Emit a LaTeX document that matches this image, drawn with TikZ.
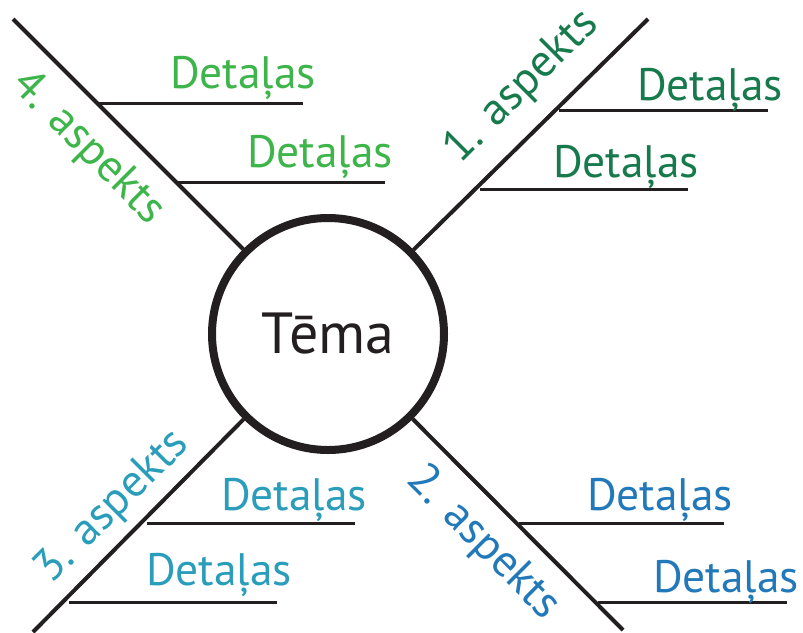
\documentclass[tikz,border=0pt]{standalone}
\usepackage{fontspec}
\setmainfont{PT Sans}
\usepackage{tikz}
\usetikzlibrary{positioning,calc}
\definecolor{ink}{HTML}{231F20}
\definecolor{asp1}{HTML}{177A4C}
\definecolor{asp2}{HTML}{2279B9}
\definecolor{asp3}{HTML}{2A9DBA}
\definecolor{asp4}{HTML}{3DB54A}
\tikzstyle{tema}=[circle,draw=ink,text=ink,line width=8pt,minimum size=232pt,inner sep=0pt,font=\fontsize{58}{62}\selectfont]
\tikzstyle{kauls}=[-,draw=ink,line width=4pt]
\tikzstyle{zars}=[-,draw=ink,line width=3pt]
\tikzstyle{det}=[anchor=base,inner sep=0pt,font=\fontsize{45.5}{48}\selectfont]
\tikzstyle{asp}=[inner sep=0pt,font=\fontsize{45.5}{48}\selectfont]

\begin{document}
\begin{tikzpicture}[x=1pt,y=-1pt]
\useasboundingbox (0,0) rectangle (803,632);
\node[tema] (T) at (328,334) {Tēma};
\coordinate (K1) at (648,19);
\coordinate (K2) at (623,630);
\coordinate (K3) at (33,632);
\coordinate (K4) at (13,19);
\draw[kauls] (K1) to (T);
\draw[kauls] (K2) to (T);
\draw[kauls] (K3) to (T);
\draw[kauls] (K4) to (T);
% 1. aspekts
\node[asp,asp1,rotate=45] (A1) at (522,87) {1. aspekts};
\coordinate (Z11a) at (559,110); \coordinate (Z11b) at (768,110);
\coordinate (Z12a) at (480,189); \coordinate (Z12b) at (688,189);
\draw[zars] (Z11a) to (Z11b);
\draw[zars] (Z12a) to (Z12b);
\node[det,asp1] (D11) at (710,100) {Detaļas};
\node[det,asp1] (D12) at (626,177) {Detaļas};
% 2. aspekts
\node[asp,asp2,rotate=-45] (A2) at (483,543) {2. aspekts};
\coordinate (Z21a) at (519,523); \coordinate (Z21b) at (724,523);
\coordinate (Z22a) at (598,602); \coordinate (Z22b) at (787,602);
\draw[zars] (Z21a) to (Z21b);
\draw[zars] (Z22a) to (Z22b);
\node[det,asp2] (D21) at (660,510) {Detaļas};
\node[det,asp2] (D22) at (726,592) {Detaļas};
% 3. aspekts
\node[asp,asp3,rotate=45] (A3) at (113,507) {3. aspekts};
\coordinate (Z31a) at (147,523); \coordinate (Z31b) at (355,523);
\coordinate (Z32a) at (69,602); \coordinate (Z32b) at (277,602);
\draw[zars] (Z31a) to (Z31b);
\draw[zars] (Z32a) to (Z32b);
\node[det,asp3] (D31) at (294,510) {Detaļas};
\node[det,asp3] (D32) at (219,585) {Detaļas};
% 4. aspekts
\node[asp,asp4,rotate=-45] (A4) at (88,148) {4. aspekts};
\coordinate (Z41a) at (98,103); \coordinate (Z41b) at (303,103);
\coordinate (Z42a) at (177,182); \coordinate (Z42b) at (385,182);
\draw[zars] (Z41a) to (Z41b);
\draw[zars] (Z42a) to (Z42b);
\node[det,asp4] (D41) at (243,88) {Detaļas};
\node[det,asp4] (D42) at (320,167) {Detaļas};
\end{tikzpicture}
\end{document}
